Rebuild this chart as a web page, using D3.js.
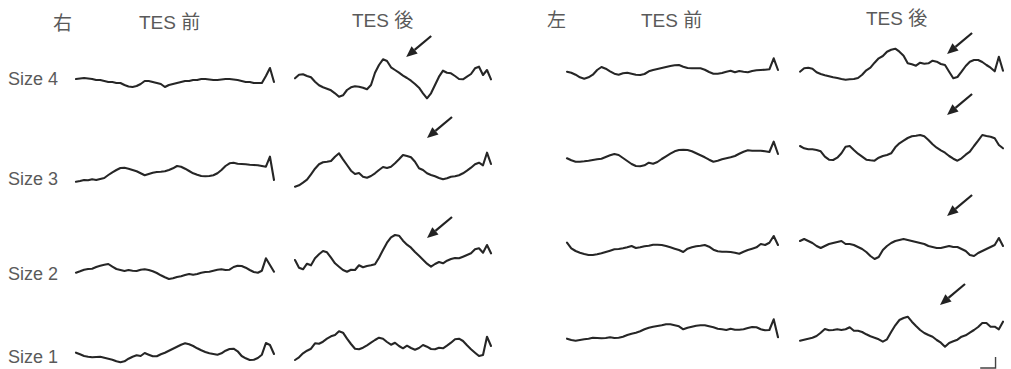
<!DOCTYPE html>
<html>
<head>
  <meta charset="UTF-8">
  <title></title>
  <style>
    body{ margin:0; background:#fff; }
    text{
      font-family: "Liberation Sans", Arial, "Noto Sans CJK JP", sans-serif;
      fill: #5a5a5a;
    }
    .head{ font-size:19px; }
    .size{ font-size:18px; }
    .trace{ fill:none; stroke:#262626; stroke-width:2.1; stroke-linejoin:round; stroke-linecap:round; }
    .arrow line{ stroke:#222; stroke-width:2.2; }
    .arrow path{ fill:#222; }
    .cal{ fill:none; stroke:#444; stroke-width:1.4; }
  </style>
</head>
<body>
  <script src="https://d3js.org/d3.v7.min.js"></script>
  <script>
    // amplitudes (px-ish units, up = positive), 50 samples per sweep
    var rPreS4 = [-1,-0.5,0,-0.5,-1,-2,-2,-3,-4,-4, -5,-5,-7,-8.5,-9,-8,-6,-3,-3,-4, -5,-6,-9,-7,-6,-5,-4,-3,-3,-2, -2,-1,-1,-1.5,-2,-2,-1.5,-1,-1,-1.5, -2,-3,-4,-4,-5,-5,-5,2,10,-4];
    var rPreS3 = [-1.7,-1,0,-0.3,0.7,0,1,2,5,7.7, 10,12,12.3,11.3,10,8.7,6.7,4.7,6,7.3, 8,8.3,8.7,10,11.7,14,13.3,11.3,9,6.7, 5.3,4,3.7,4,4.7,6.7,10,14,16.7,17.3, 16.3,16,15.7,15.3,15,14.7,14,13.3,23.3,0];
    var rPreS2 = [-2.7,-1.3,0.3,1,1.3,3,4.3,5.3,6,3.3, 1,0,-1,0,-0.7,-1,0.3,0.7,0,-1.3, -3,-5.3,-7.3,-9,-8.3,-7,-6.3,-5,-4,-4.7, -4,-2.7,-2,-1.7,-0.7,0.3,0.7,0,0.3,3, 4.3,4,2.3,0,-2,-2.7,-0.7,11.7,5,-1.7];
    var rPreS1 = [2.3,0.7,-1,-1.7,-2.3,-2,-1.7,-2.7,-3.7,-4.7, -6.3,-7.3,-6.3,-3.7,-1.7,-0.3,-1,2,0.3,-1.3, -1.3,0.7,2.3,4.3,6.3,8.3,10.3,11.7,10.7,9, 6.7,4.7,3,1.7,1,0.3,1.7,4.3,6,6.3, 3.7,-1,-3.3,-5,-4.7,-3,0.3,12,10,1];

    var rPostS4 = [-0.3,3.3,3.7,2,0.7,-3.7,-7.3,-9.3,-10.7,-12.3, -15.3,-18.7,-17.3,-12,-9.3,-8.3,-8.7,-9.7,-11.3,-7, 5.3,13,18.7,17,10.7,8,5.3,2.3,0,-2.7, -6,-9.7,-15.3,-20.3,-15.3,-7,1.3,7.3,5.3,4.7, 2,-1,-1.3,1.3,4,9.7,11.3,3,8,-1.3];
    var rPostS3 = [-6.7,-5.3,-2.7,0.3,5.7,11.3,15.7,17.7,18.3,19, 23.3,26.7,20.7,15,9.3,6,7,3.3,2.3,4, 6.7,10,13,12,13.3,16.7,20.7,25,24,22.7, 18.3,11.7,10,6.7,5,3.7,2,0.7,1.7,3.3, 3.7,4.7,6.7,9.3,12.3,15.7,17.3,14.7,27.3,16];
    var rPostS2 = [10,2.3,0.7,6.3,4.7,11.7,15.7,19,17.7,12.3, 6.7,3.3,0,-1.7,0.3,0,4.7,2.7,4,4.7, 5.7,12.3,20,27.3,32.7,35,34.3,29.3,25.3,22.3, 18,14.3,10.3,6.3,3.3,6,8,6.7,9.3,11, 12,11.7,13.3,15,16.7,20.7,21.7,17.3,25,16.7];
    var rPostS1 = [-5,-2.3,1.7,4.3,6.3,11.7,11.3,13.3,16.3,18.7, 20,23.7,22.3,16.3,11,6.3,5.7,7.3,9.7,12.3, 15,17.3,16.3,13,10.3,12.3,9,6.7,9.3,7, 5.3,7,10,8.3,6,5.7,7.3,6.7,9.3,12.3, 15.7,16.3,14,9.7,5.7,2.3,-1,0,18.3,9];

    var lPreS4 = [0.3,-0.7,-2.7,-5.3,-6.7,-5.3,-2.7,2,5,3.3, 0.7,-1.7,-2.7,-1.3,-0.7,-1.7,-2.7,-3,-2,0.7, 2,3,4,5,6,6.7,7,5.3,4,3.7, 3.7,3.7,2.3,0,-1.7,-1.7,-1,0.3,1.3,-0.3, 1,0.3,-0.3,1,1.7,2,2.3,2.7,13.7,2];
    var lPreS3 = [1.7,-0.3,-1.7,-1.7,-1.3,-0.7,0,0.7,1.3,3, 4.7,6,5,2,-1,-4,-6,-6.3,-5.3,-2.7, -3.7,-2,1,3.7,6.3,8.7,10,10.3,10,8.7, 6.7,4.7,2.7,0.3,-1.7,-0.7,0.7,1.7,2.7,4, 6.3,8.3,9.7,9.3,9.3,9.3,8.7,8,18.3,6];
    var lPreS2 = [7.3,1.7,-1,-2.7,-4,-5,-5,-4.3,-3.3,-2, -0.7,0.7,1,1.7,2.7,4,2,2.7,3.7,4.3, 5.3,5.3,5,4,2.7,1.3,0,-2,1.3,2.7, 3.7,4.3,5,3.3,0.3,-1.3,-1.7,-1.7,-2,-2.7, -3.7,-1.7,0,1.3,2.7,6,5,7.3,14,5];
    var lPreS1 = [-0.7,-2,-2.7,-2,-1.3,-0.7,0.3,0,-0.3,0, 0.7,0,0.3,1.3,3,4.3,5.3,6.7,8.7,10.3, 11.3,12,12.7,13.7,13.7,12.7,11.7,8.7,10.3,11.3, 12.3,12.7,12.7,11.7,10.7,9.3,8.7,8,9.3,8.3, 8.3,8.7,10,11,10.7,8.7,7.7,8,18.7,0.7];

    var lPostS4 = [0.3,3.7,4.3,3.3,-0.3,-2,-3.3,-4.3,-5.3,-6, -7,-7.7,-7.3,-7,-6,-2.7,1.7,4.3,9.3,13.7, 16,20.3,22.3,23.3,20.3,16.3,8.7,7.7,6.3,9.3, 8.3,8.7,11.3,10.3,8,7,0.3,-6.3,-5,0.3, 6,10.3,12,12,10,7,4.3,0.7,15.3,1.3];
    var lPostS3 = [14,11.7,10.7,10.7,10,8.7,3.3,0.3,0,2.3, 6.7,13.3,14,10,6.3,3.3,0.3,-0.3,-0.7,2.3, 4,5,6.7,12.7,16.7,19.3,22,23.7,24.3,25, 23.7,20,15.7,12.3,9.7,7.3,4,1.3,-0.7,1.7, 5.3,8.3,14,19.3,25,24,23.3,21.7,15,11.7];
    var lPostS2 = [9,11,9,7,4,2,4,6,7,8, 9,6,6,5,3,1,-2,-6,-9,-7, 0,4,7,9,10,11,10,9,8,7, 6,4,3,2,2,3,4,3,3,1, -1,-5,-6,-3,-1,1,3,5,12,4];
    var lPostS1 = [-2.7,-1.7,-0.7,0.3,2,5.3,9,7.7,8,8.7, 8,8.7,10.7,7.3,7.3,6,3.7,1.7,0.3,-1.3, -3.7,-1.3,6,12.7,18,20,21.3,16.3,12,8, 5,3,1.3,-2,-4.7,-8.7,-5,-3.3,-1.7,1.3, 2.7,5.3,8,11,15,15,11.3,11.3,8.7,16.3];

    var sizeLabels = ["Size 4", "Size 3", "Size 2", "Size 1"];
    var sideLabels = ["右", "左"];
    var phaseLabels = ["TES 前", "TES 後"];

    // arrows: panel, row, sample index and amplitude of the head
    var arrowPanel = [1, 1, 1, 3, 3, 3, 3];
    var arrowRow   = [0, 1, 2, 0, 1, 2, 3];
    var arrowT     = [27.8, 33, 33, 35.5, 35.5, 35.5, 33.8];
    var arrowV     = [21, 42, 32, 18, 45, 34, 33];

    var width = 1011, height = 369;
    var svg = d3.select("body").append("svg")
        .attr("width", width)
        .attr("height", height);

    var rightBases = [78, 180, 270, 355],
        leftBases = [72, 160, 250, 338];

    var panels = [
      {x0: 76,  x1: 274,  bases: rightBases, traces: [rPreS4, rPreS3, rPreS2, rPreS1]},
      {x0: 295, x1: 491,  bases: rightBases, traces: [rPostS4, rPostS3, rPostS2, rPostS1]},
      {x0: 567, x1: 778,  bases: leftBases,  traces: [lPreS4, lPreS3, lPreS2, lPreS1]},
      {x0: 800, x1: 1003, bases: leftBases,  traces: [lPostS4, lPostS3, lPostS2, lPostS1]}
    ];

    panels.forEach(function(p) {
      p.x = d3.scaleLinear().domain([0, 49]).range([p.x0, p.x1]);
      p.y = p.bases.map(function(b) {
        return d3.scaleLinear().domain([0, 10]).range([b, b - 10]);
      });
    });

    function drawPanel(p) {
      var g = svg.append("g");
      p.traces.forEach(function(tr, r) {
        var line = d3.line()
            .x(function(d, i) { return p.x(i); })
            .y(function(d) { return p.y[r](d); });
        g.append("path")
          .attr("class", "trace")
          .attr("d", line(tr));
      });
    }

    panels.forEach(drawPanel);

    // headers
    var headX = [139, 352, 641, 866], headY = [29, 27, 27, 25];
    svg.selectAll("text.phase")
      .data([0, 1, 2, 3])
      .enter().append("text")
        .attr("class", "head phase")
        .attr("x", function(d) { return headX[d]; })
        .attr("y", function(d) { return headY[d]; })
        .text(function(d) { return phaseLabels[d % 2]; });

    svg.selectAll("text.side")
      .data(sideLabels)
      .enter().append("text")
        .attr("class", "head side")
        .attr("x", function(d, i) { return i === 0 ? 53 : 547; })
        .attr("y", function(d, i) { return i === 0 ? 30 : 27; })
        .text(function(d) { return d; });

    var labelMid = [77.5, 177.5, 272.5, 355.5];
    svg.selectAll("text.size")
      .data(sizeLabels)
      .enter().append("text")
        .attr("class", "size")
        .attr("x", 8)
        .attr("y", function(d, i) { return labelMid[i] + 7; })
        .text(function(d) { return d; });

    // arrows
    var arrows = svg.append("g").attr("class", "arrow");
    arrowT.forEach(function(t, k) {
      var p = panels[arrowPanel[k]];
      var hx = p.x(t), hy = p.y[arrowRow[k]](arrowV[k]);
      var tx = hx + 25, ty = hy - 21;
      var ang = Math.atan2(hy - ty, hx - tx);
      var len = 11, hw = 4.8;
      var bx = hx - len * Math.cos(ang), by = hy - len * Math.sin(ang);
      var nx = -Math.sin(ang) * hw, ny = Math.cos(ang) * hw;
      arrows.append("line")
        .attr("x1", tx).attr("y1", ty)
        .attr("x2", bx).attr("y2", by);
      arrows.append("path")
        .attr("d", "M" + hx + "," + hy + "L" + (bx + nx) + "," + (by + ny) +
                   "L" + (bx - nx) + "," + (by - ny) + "Z");
    });

    // calibration bar
    var pc = panels[3], yc = pc.y[3];
    svg.append("path")
      .attr("class", "cal")
      .attr("d", "M" + pc.x(43.5) + "," + yc(-30) + "H" + pc.x(47.2) + "V" + yc(-19));
  </script>
</body>
</html>
